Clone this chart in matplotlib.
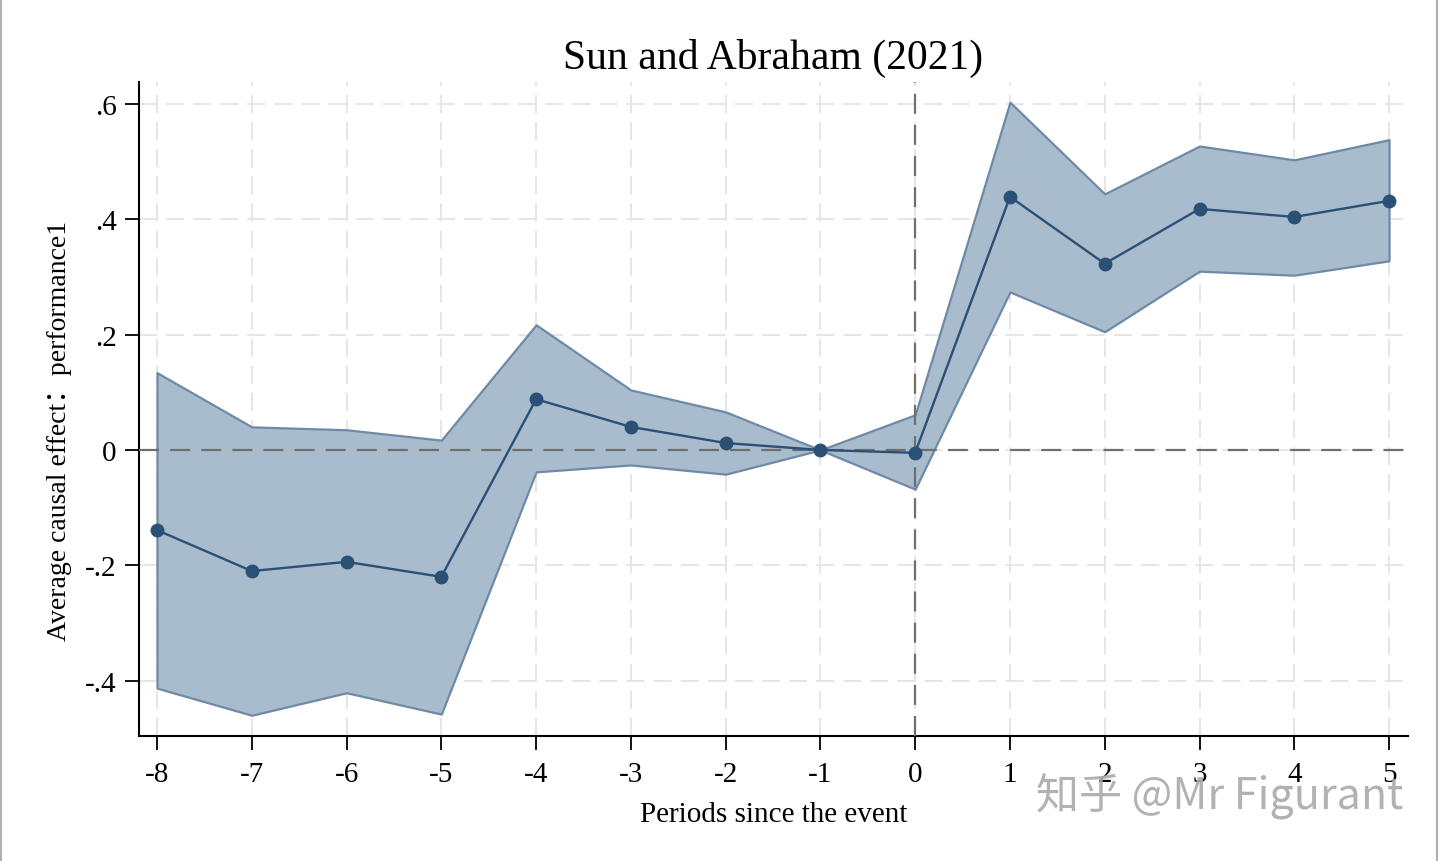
import matplotlib
matplotlib.use("Agg")
import matplotlib.pyplot as plt
from matplotlib.lines import Line2D

periods = [-8, -7, -6, -5, -4, -3, -2, -1, 0, 1, 2, 3, 4, 5]
estimate = [-0.139, -0.210, -0.194, -0.220, 0.088, 0.040, 0.012, 0.0, -0.005, 0.439, 0.323, 0.418, 0.404, 0.432]
ci_upper = [0.134, 0.040, 0.035, 0.017, 0.217, 0.104, 0.066, 0.0, 0.061, 0.603, 0.444, 0.527, 0.503, 0.538]
ci_lower = [-0.413, -0.460, -0.421, -0.458, -0.038, -0.026, -0.042, 0.0, -0.068, 0.274, 0.205, 0.310, 0.303, 0.328]
yticks = [-0.4, -0.2, 0.0, 0.2, 0.4, 0.6]
ytick_labels = ["-.4", "-.2", "0", ".2", ".4", ".6"]

serif = ["Liberation Serif", "Noto Sans CJK SC", "DejaVu Serif"]
plt.rcParams["font.family"] = serif

fig = plt.figure(figsize=(14.4, 8.62), dpi=100)
ax = fig.add_axes([139/1440, 1-737/862, (1408-139)/1440, (737-83)/862])

line_col = "#2b5075"
fill_col = "#a9bccd"
edge_col = "#6e8aa6"

ax.set_xlim(-8.19, 5.2)
ax.set_ylim(-0.496, 0.638)

for x in periods:
    ax.axvline(x, color="#e4e4e4", lw=1.3, ls=(0, (10, 5)), zorder=0)
for y in yticks:
    ax.axhline(y, color="#e4e4e4", lw=1.3, ls=(0, (10, 5)), zorder=0)

ax.fill_between(periods, ci_lower, ci_upper, facecolor=fill_col, edgecolor=edge_col, lw=1.6, zorder=2)
ax.axvline(0, color="#6e6e6e", lw=1.6, ls=(0, (9, 5)), zorder=3)
ax.axhline(0, color="#6e6e6e", lw=1.6, ls=(0, (9, 5)), zorder=3)
ax.plot(periods, estimate, color=line_col, lw=1.7, marker="o", ms=9, zorder=4)

ax.set_xticks(periods)
ax.set_xticklabels([str(p) for p in periods])
ax.set_yticks(yticks)
ax.set_yticklabels(ytick_labels)
ax.tick_params(axis="both", direction="out", length=10, width=1.3, labelsize=21, pad=8, color="black")
ax.tick_params(axis="y", pad=6)
for s in ["top", "right"]:
    ax.spines[s].set_visible(False)
for s in ["left", "bottom"]:
    ax.spines[s].set_linewidth(1.5)

ax.set_title("Sun and Abraham (2021)", fontsize=30, pad=10)
ax.set_xlabel("Periods since the event", fontsize=21, labelpad=10)
ax.set_ylabel("Average causal effect：performance1", fontsize=20)
ax.yaxis.set_label_coords((72-139)/1269, (737-431)/654)

fig.text(1220/1440, 1-797/862, "知乎 @Mr Figurant", fontsize=31, color="#aaaaaa",
         family=["Noto Sans CJK SC", "DejaVu Sans"], fontweight="medium",
         ha="center", va="center", alpha=0.9, zorder=0)

fig.add_artist(Line2D([0.001, 0.001], [0, 1], transform=fig.transFigure, color="#b0b0b0", lw=1.5))
fig.add_artist(Line2D([0.998, 0.998], [0, 1], transform=fig.transFigure, color="#b0b0b0", lw=1.5))

fig.savefig("out.png", dpi=100)
